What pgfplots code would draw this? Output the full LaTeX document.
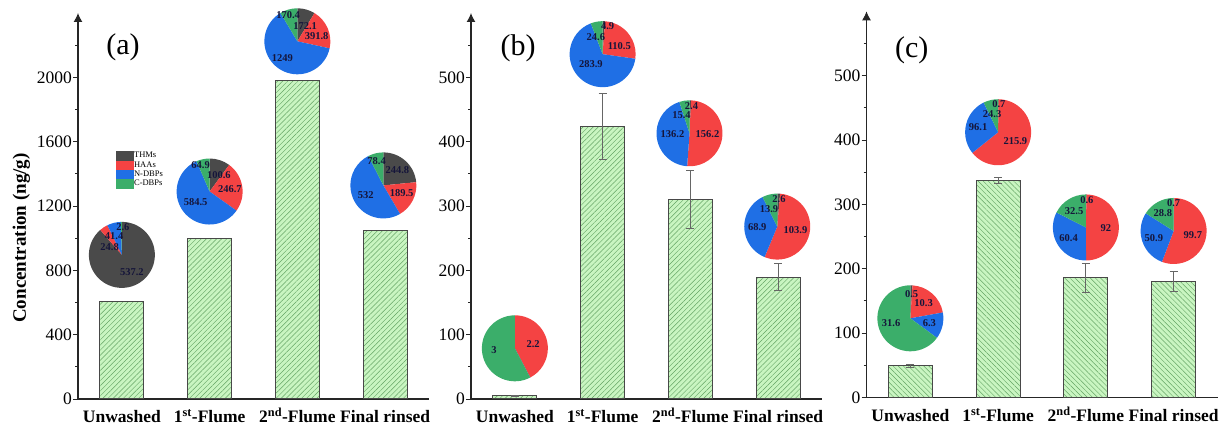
\documentclass[border=0pt]{standalone}
\usepackage{pgfplots}
\pgfplotsset{compat=1.18}
\usepackage{pgfplotstable}
\usepackage{fontspec}
\setmainfont{Liberation Serif}
\usetikzlibrary{arrows.meta,patterns.meta}

\definecolor{thm}{HTML}{4A4A4A}
\definecolor{haa}{HTML}{F44343}
\definecolor{ndbp}{HTML}{1F6FE5}
\definecolor{cdbp}{HTML}{3BAE6A}
\definecolor{barfill}{HTML}{C9F5C1}
\definecolor{hatch}{HTML}{64A464}
\definecolor{bardraw}{HTML}{484848}
\definecolor{plabc}{HTML}{15153A}

\pgfplotstableread{
x y e
0 606.0 0
1 996.7 0
2 1983.3 0
3 1044.7 0
}\dataA
\pgfplotstableread{
x y e
0 5.2 1
1 423.9 51
2 310.2 45
3 189.3 21
}\dataB
\pgfplotstableread{
x y e
0 48.7 3
1 337.0 4.5
2 185.5 23
3 180.1 16
}\dataC

\newcommand\R{33pt}
\newcommand\pie[5]{%
  \pgfmathsetmacro\T{#2+#3+#4+#5}%
  \pgfmathsetmacro\aB{90-360*((#2)/\T)}%
  \pgfmathsetmacro\aC{\aB-360*((#3)/\T)}%
  \pgfmathsetmacro\aD{\aC-360*((#4)/\T)}%
  \fill[thm] (#1) -- ++(90:\R) arc[start angle=90, end angle=\aB, radius=\R] -- cycle;
  \fill[haa] (#1) -- ++(\aB:\R) arc[start angle=\aB, end angle=\aC, radius=\R] -- cycle;
  \fill[ndbp] (#1) -- ++(\aC:\R) arc[start angle=\aC, end angle=\aD, radius=\R] -- cycle;
  \fill[cdbp] (#1) -- ++(\aD:\R) arc[start angle=\aD, end angle=-270, radius=\R] -- cycle;
}
\newcommand\pl[4]{\node[font=\bfseries\fontsize{10.5}{12}\selectfont, text=plabc, inner sep=0pt] at ([shift={(#2pt,#3pt)}]#1) {#4};}

\pgfplotsset{
  myaxis/.style={
    scale only axis, width=351pt, height=386pt,
    anchor=south west,
    axis x line=bottom, axis y line=left,
    x axis line style={-, line width=1.2pt, black!85},
    y axis line style={-{Latex[length=9pt,width=9pt]}, line width=1.2pt, black!85},
    xmin=-0.5, xmax=3.5, ymin=0,
    enlargelimits=false,
    xtick=data,
    xticklabels={Unwashed, 1\textsuperscript{st}-Flume, 2\textsuperscript{nd}-Flume, Final rinsed},
    x tick style={draw=none},
    xticklabel style={font=\bfseries\fontsize{17.5}{20}\selectfont, anchor=base, yshift=-19pt},
    yticklabel style={font=\fontsize{17.5}{20}\selectfont, inner xsep=1pt},
    /pgf/number format/assume math mode=true,
    /pgf/number format/1000 sep={},
    tick align=outside,
    major tick length=5pt, minor tick length=3pt,
    y tick style={line width=0.9pt, black!85},
    ybar, bar width=44pt,
    clip=false,
  },
  mybar/.style={fill=barfill, draw=bardraw, line width=1pt,
    postaction={pattern={Lines[angle=#1,distance=3.6pt,line width=0.45pt]}, pattern color=hatch},
    error bars/.cd, y dir=both, y explicit,
    error bar style={line width=0.8pt, black!60},
    error mark options={line width=0.8pt, black!60, mark size=4pt, rotate=90}},
}

\begin{document}
\begin{tikzpicture}
\path[use as bounding box] (0,0) rectangle (1227pt,430pt);

% ---------------- (a)
\begin{axis}[myaxis, at={(78pt,31pt)}, ymax=2400,
  ytick={0,400,...,2000}, minor ytick={200,600,...,2200},
  ylabel={Concentration (ng/g)},
  ylabel style={font=\bfseries\fontsize{19}{22}\selectfont, at={(axis description cs:-0.161,0.417)}, anchor=center},
  legend style={at={(0.108,0.6425)}, anchor=north west, draw=none, fill=none,
    font=\fontsize{8.5}{10}\selectfont, row sep=0.6pt, inner sep=0pt,
    nodes={inner sep=0.6pt}},
  legend cell align=left,
]
\addlegendimage{legend image code/.code={\fill[thm] (0pt,-4.2pt) rectangle (17pt,4.2pt);}}
\addlegendentry{THMs}
\addlegendimage{legend image code/.code={\fill[haa] (0pt,-4.2pt) rectangle (17pt,4.2pt);}}
\addlegendentry{HAAs}
\addlegendimage{legend image code/.code={\fill[ndbp] (0pt,-4.2pt) rectangle (17pt,4.2pt);}}
\addlegendentry{N-DBPs}
\addlegendimage{legend image code/.code={\fill[cdbp] (0pt,-4.2pt) rectangle (17pt,4.2pt);}}
\addlegendentry{C-DBPs}
\addplot[mybar=45] table[x=x,y=y] {\dataA};
\node[font=\fontsize{30}{34}\selectfont] at (axis description cs:0.128,0.912) {(a)};
\coordinate (pa0) at (axis cs:0,896);
\coordinate (pa1) at (axis cs:1,1290);
\coordinate (pa2) at (axis cs:2,2224);
\coordinate (pa3) at (axis cs:2.98,1328);
\end{axis}

% ---------------- (b)
\begin{axis}[myaxis, at={(471pt,31pt)}, ymax=600,
  ytick={0,100,...,500}, minor ytick={50,150,...,550}]
\addplot[mybar=45] table[x=x,y=y,y error=e] {\dataB};
\node[font=\fontsize{30}{34}\selectfont] at (axis description cs:0.134,0.909) {(b)};
\coordinate (pb0) at (axis cs:0,78.8);
\coordinate (pb1) at (axis cs:1,536);
\coordinate (pb2) at (axis cs:1.99,413);
\coordinate (pb3) at (axis cs:2.99,268);
\end{axis}

% ---------------- (c)
\begin{axis}[myaxis, at={(866.5pt,32.7pt)}, ymax=600,
  ytick={0,100,...,500}, minor ytick={50,150,...,550}]
\addplot[mybar=-45] table[x=x,y=y,y error=e] {\dataC};
\node[font=\fontsize{30}{34}\selectfont] at (axis description cs:0.129,0.90) {(c)};
\coordinate (pc0) at (axis cs:0,122.8);
\coordinate (pc1) at (axis cs:1,412);
\coordinate (pc2) at (axis cs:2,264);
\coordinate (pc3) at (axis cs:3,258.5);
\end{axis}

% pies (a)
\pie{pa0}{537.2}{24.8}{41.4}{2.6}
\pie{pa1}{100.6}{246.7}{584.5}{64.9}
\pie{pa2}{172.1}{391.8}{1249}{170.4}
\pie{pa3}{244.8}{189.5}{532}{78.4}
% pies (b)
\pie{pb0}{0}{2.2}{0}{3}
\pie{pb1}{4.9}{110.5}{283.9}{24.6}
\pie{pb2}{2.4}{156.2}{136.2}{15.4}
\pie{pb3}{2.6}{103.9}{68.9}{13.9}
% pies (c)
\pie{pc0}{0.5}{10.3}{6.3}{31.6}
\pie{pc1}{0.7}{215.9}{96.1}{24.3}
\pie{pc2}{0.6}{92}{60.4}{32.5}
\pie{pc3}{0.7}{99.7}{50.9}{28.8}

% labels
\pl{pa0}{10}{-17}{537.2}\pl{pa0}{-12.3}{8.3}{24.8}\pl{pa0}{-7.7}{18.3}{41.4}\pl{pa0}{1}{28}{2.6}
\pl{pa1}{-9}{26}{64.9}\pl{pa1}{9.3}{16}{100.6}\pl{pa1}{20.3}{2.3}{246.7}\pl{pa1}{-14}{-11}{584.5}
\pl{pa2}{-9.3}{26.7}{170.4}\pl{pa2}{7.7}{15.7}{172.1}\pl{pa2}{19.3}{5.7}{391.8}\pl{pa2}{-15}{-16.7}{1249}
\pl{pa3}{-6.7}{24}{78.4}\pl{pa3}{14}{15}{244.8}\pl{pa3}{18.3}{-7.7}{189.5}\pl{pa3}{-17.7}{-9.3}{532}
\pl{pb0}{-21}{-1.7}{3}\pl{pb0}{18.3}{4.3}{2.2}
\pl{pb1}{5}{28.3}{4.9}\pl{pb1}{-6.7}{16.7}{24.6}\pl{pb1}{16.7}{8}{110.5}\pl{pb1}{-11.7}{-10}{283.9}
\pl{pb2}{2}{27.3}{2.4}\pl{pb2}{-8}{17.7}{15.4}\pl{pb2}{-17}{-1}{136.2}\pl{pb2}{18}{-1}{156.2}
\pl{pb3}{1.7}{27.3}{2.6}\pl{pb3}{-8.3}{17.3}{13.9}\pl{pb3}{-20}{-1}{68.9}\pl{pb3}{18.3}{-3.3}{103.9}
\pl{pc0}{1.3}{24.3}{0.5}\pl{pc0}{13.3}{15}{10.3}\pl{pc0}{19}{-5}{6.3}\pl{pc0}{-19.3}{-5}{31.6}
\pl{pc1}{0.7}{28.3}{0.7}\pl{pc1}{-6}{18}{24.3}\pl{pc1}{-20}{4.7}{96.1}\pl{pc1}{17.3}{-9.3}{215.9}
\pl{pc2}{1}{27.3}{0.6}\pl{pc2}{-11.7}{16.3}{32.5}\pl{pc2}{-17.3}{-11}{60.4}\pl{pc2}{20}{-0.3}{92}
\pl{pc3}{0}{27.7}{0.7}\pl{pc3}{-10.7}{17.7}{28.8}\pl{pc3}{-19.7}{-7.3}{50.9}\pl{pc3}{19.3}{-4}{99.7}
\end{tikzpicture}
\end{document}
